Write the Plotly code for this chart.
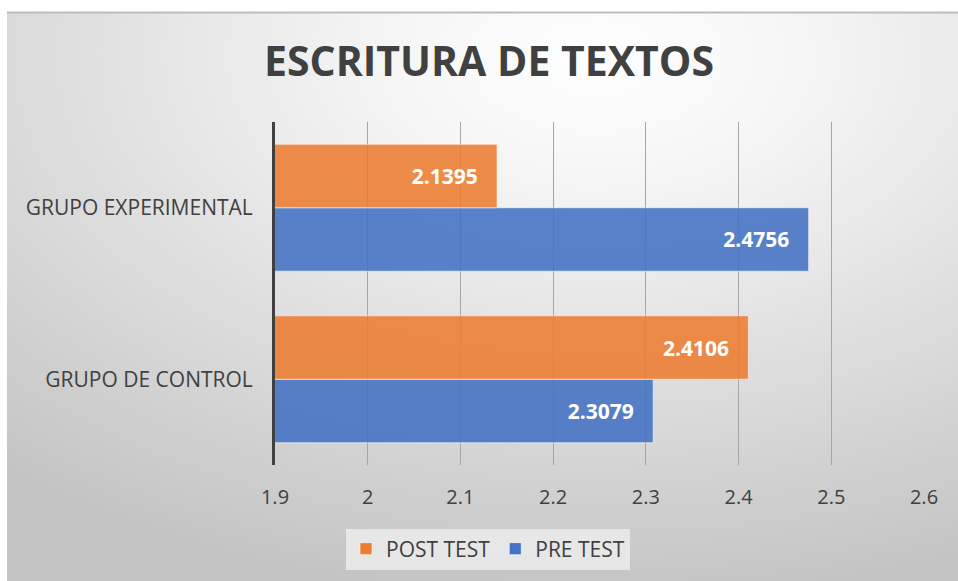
import base64
import plotly.graph_objects as go

# ---- data ----
categories = ["GRUPO DE CONTROL", "GRUPO EXPERIMENTAL"]
pre_test = [2.3079, 2.4756]
post_test = [2.4106, 2.1395]
x_ticks = [1.9, 2.0, 2.1, 2.2, 2.3, 2.4, 2.5, 2.6]
x_tick_labels = ["1.9", "2", "2.1", "2.2", "2.3", "2.4", "2.5", "2.6"]
title_text = "ESCRITURA DE TEXTOS"

# ---- geometry (page pixels; body margin removed by post_script) ----
W, H = 958, 581
L, T = 275, 122
R = W - 924
B = H - 465
PW, PH = W - L - R, H - T - B


def px(x):
    return (x - L) / PW


def py(y):
    return (H - B - y) / PH


FONT = "Open Sans"
TXT = "#404040"

svg = (
    '<svg xmlns="http://www.w3.org/2000/svg" width="100" height="100" '
    'viewBox="0 0 100 100" preserveAspectRatio="none">'
    '<defs><radialGradient id="g" cx="0.62" cy="0.08" r="0.95" fx="0.62" fy="0.08">'
    '<stop offset="0" stop-color="#ffffff"/>'
    '<stop offset="0.25" stop-color="#f4f4f4"/>'
    '<stop offset="1" stop-color="#c4c4c4"/>'
    '</radialGradient></defs>'
    '<rect x="0" y="0" width="100" height="100" fill="url(#g)"/></svg>'
)
bg_src = "data:image/svg+xml;base64," + base64.b64encode(svg.encode()).decode()

label_font = dict(family=FONT, size=21, color="white", weight="bold")

fig = go.Figure()
fig.add_trace(go.Bar(
    name="PRE TEST", y=categories, x=pre_test, orientation="h",
    marker=dict(color="#4472C4", opacity=0.88, line=dict(color="rgba(255,255,255,0.6)", width=1)),
    texttemplate="%{x:.4f}\u00a0\u00a0\u00a0", textposition="inside", insidetextanchor="end",
    textfont=label_font,
))
fig.add_trace(go.Bar(
    name="POST TEST", y=categories, x=post_test, orientation="h",
    marker=dict(color="#ED7D31", opacity=0.88, line=dict(color="rgba(255,255,255,0.6)", width=1)),
    texttemplate="%{x:.4f}\u00a0\u00a0\u00a0", textposition="inside", insidetextanchor="end",
    textfont=label_font,
))

fig.update_layout(
    width=W, height=H,
    margin=dict(l=L, r=R, t=T, b=B, pad=0),
    paper_bgcolor="white",
    plot_bgcolor="rgba(0,0,0,0)",
    barmode="group",
    bargap=0.26,
    bargroupgap=0,
    font=dict(family=FONT, color=TXT, size=21),
    title=dict(text=title_text, x=489 / W, xanchor="center", y=1 - 62 / H,
               yanchor="middle", font=dict(family=FONT, size=41, color=TXT, weight="bold")),
    xaxis=dict(range=[1.9, 2.6], tickvals=x_ticks, ticktext=x_tick_labels,
               showgrid=True, gridcolor="#a6a6a6", gridwidth=1, zeroline=False,
               showline=False, ticks="", ticklabelstandoff=18,
               tickfont=dict(family=FONT, size=20, color=TXT), layer="above traces"),
    yaxis=dict(range=[-0.5, 1.5], showgrid=False, zeroline=False,
               showline=True, linecolor="#404040", linewidth=3,
               ticks="", ticklabelstandoff=15,
               tickfont=dict(family=FONT, size=21, color=TXT)),
    legend=dict(orientation="h", x=px(488), y=py(549), xanchor="center", yanchor="middle",
                traceorder="reversed", bgcolor="rgba(240,240,240,0.75)",
                font=dict(family=FONT, size=21, color=TXT), itemwidth=30,
                entrywidthmode="pixels"),
    images=[dict(source=bg_src, xref="paper", yref="paper", x=px(7), y=py(12),
                 sizex=(W - 7) / PW, sizey=(H - 12) / PH,
                 xanchor="left", yanchor="top", sizing="stretch", layer="below")],
    shapes=[dict(type="line", xref="paper", yref="paper", x0=px(7), x1=px(W),
                 y0=py(12.5), y1=py(12.5), line=dict(color="#bdbdbd", width=2))],
)

fig.write_html("out.html",
               config={"displayModeBar": False},
               post_script="document.body.style.margin='0';document.body.style.overflow='hidden';")
